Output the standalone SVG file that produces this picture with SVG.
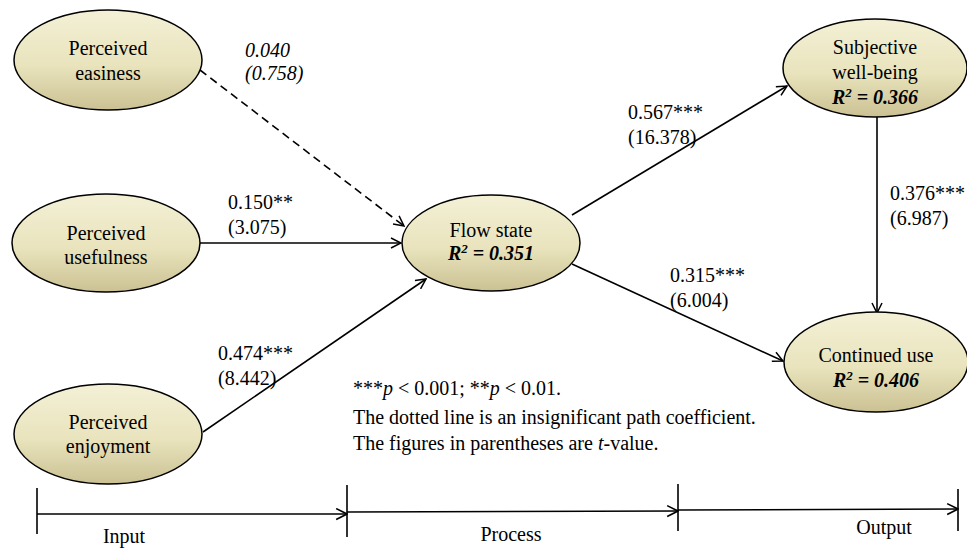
<svg xmlns="http://www.w3.org/2000/svg" width="967" height="549" viewBox="0 0 967 549" font-family="'Liberation Serif', 'Times New Roman', 'DejaVu Serif', serif">
<defs>
<linearGradient id="fill" x1="0" y1="0" x2="0" y2="1">
<stop offset="0" stop-color="#f3f0d6"/>
<stop offset="0.55" stop-color="#e9e4bd"/>
<stop offset="1" stop-color="#cbc193"/>
</linearGradient>
<marker id="arr" viewBox="0 0 12 12" refX="11" refY="6" markerWidth="12" markerHeight="12" markerUnits="userSpaceOnUse" orient="auto">
<path d="M1,1 L11,6 L1,11" fill="none" stroke="#000" stroke-width="1.5"/>
</marker>
<marker id="arr2" viewBox="0 0 12 12" refX="11" refY="6" markerWidth="13" markerHeight="13" markerUnits="userSpaceOnUse" orient="auto">
<path d="M1,1 L11,6 L1,11" fill="none" stroke="#000" stroke-width="1.5"/>
</marker>
</defs>
<style>
.node ellipse{fill:url(#fill);stroke:#000;stroke-width:1.5}
text{font-family:'Liberation Serif','Times New Roman','DejaVu Serif',serif;fill:#000}
.nt{font-size:20px;text-anchor:middle}
.r2{font-size:20px;text-anchor:middle;font-weight:bold;font-style:italic}
.sup{font-size:13px}
.lb{font-size:20px}
.it{font-style:italic}
.lg{font-size:20px}
.conn line{stroke:#000;stroke-width:1.6;fill:none}
.tl line{stroke:#000;stroke-width:1.6}
.tt{font-size:20px;text-anchor:middle}
</style>
<rect width="967" height="549" fill="#fff"/>
<g class="conn" id="connectors">
<line x1="200" y1="70" x2="404" y2="226" stroke-dasharray="8,5" marker-end="url(#arr)"/>
<line x1="200" y1="243" x2="401" y2="243" marker-end="url(#arr)"/>
<line x1="203" y1="432" x2="426" y2="279" marker-end="url(#arr)"/>
<line x1="572" y1="215" x2="787" y2="86" marker-end="url(#arr)"/>
<line x1="572" y1="264" x2="783" y2="361" marker-end="url(#arr)"/>
<line x1="877" y1="117" x2="877" y2="313" marker-end="url(#arr)"/>
</g>
<g id="labels">
<text class="lb it" x="245" y="57">0.040</text>
<text class="lb it" x="245" y="80">(0.758)</text>
<text class="lb" x="228" y="209">0.150**</text>
<text class="lb" x="228" y="234">(3.075)</text>
<text class="lb" x="218" y="360">0.474***</text>
<text class="lb" x="218" y="385">(8.442)</text>
<text class="lb" x="628" y="119">0.567***</text>
<text class="lb" x="628" y="144">(16.378)</text>
<text class="lb" x="670" y="282">0.315***</text>
<text class="lb" x="670" y="307">(6.004)</text>
<text class="lb" x="890" y="200">0.376***</text>
<text class="lb" x="890" y="225">(6.987)</text>
</g>
<g class="node" id="perceived-easiness">
<ellipse cx="108" cy="60" rx="94" ry="50"/>
<text class="nt" x="108" y="55">Perceived</text>
<text class="nt" x="108" y="80">easiness</text>
</g>
<g class="node" id="perceived-usefulness">
<ellipse cx="106" cy="243" rx="94" ry="49"/>
<text class="nt" x="106" y="240">Perceived</text>
<text class="nt" x="106" y="264">usefulness</text>
</g>
<g class="node" id="perceived-enjoyment">
<ellipse cx="108" cy="434" rx="94" ry="50"/>
<text class="nt" x="108" y="429">Perceived</text>
<text class="nt" x="108" y="453">enjoyment</text>
</g>
<g class="node" id="flow-state">
<ellipse cx="491" cy="243" rx="89" ry="48"/>
<text class="nt" x="491" y="237">Flow state</text>
<text class="r2" x="491" y="260">R<tspan class="sup" dy="-7">2</tspan><tspan dy="7"> = 0.351</tspan></text>
</g>
<g class="node" id="subjective-well-being">
<ellipse cx="875" cy="68" rx="92" ry="49"/>
<text class="nt" x="875" y="54">Subjective</text>
<text class="nt" x="875" y="79">well-being</text>
<text class="r2" x="875" y="104">R<tspan class="sup" dy="-7">2</tspan><tspan dy="7"> = 0.366</tspan></text>
</g>
<g class="node" id="continued-use">
<ellipse cx="876" cy="362" rx="92" ry="50"/>
<text class="nt" x="876" y="362">Continued use</text>
<text class="r2" x="876" y="387">R<tspan class="sup" dy="-7">2</tspan><tspan dy="7"> = 0.406</tspan></text>
</g>
<g id="legend">
<text class="lg" x="353" y="395">***<tspan class="it">p</tspan> &lt; 0.001;  **<tspan class="it">p</tspan> &lt; 0.01.</text>
<text class="lg" x="353" y="424">The dotted line is an insignificant  path coefficient.</text>
<text class="lg" x="353" y="450">The figures in parentheses are <tspan class="it">t</tspan>-value.</text>
</g>
<g class="tl" id="timeline">
<line x1="37" y1="488" x2="37" y2="534"/>
<line x1="347" y1="485" x2="347" y2="537"/>
<line x1="678" y1="484" x2="678" y2="531"/>
<line x1="958" y1="489" x2="958" y2="531"/>
<line x1="37" y1="514" x2="347" y2="514" marker-end="url(#arr2)"/>
<line x1="347" y1="512" x2="678" y2="511" marker-end="url(#arr2)"/>
<line x1="678" y1="510" x2="958" y2="509" marker-end="url(#arr2)"/>
<text class="tt" x="124" y="543">Input</text>
<text class="tt" x="511" y="541">Process</text>
<text class="tt" x="884" y="534">Output</text>
</g>
</svg>
